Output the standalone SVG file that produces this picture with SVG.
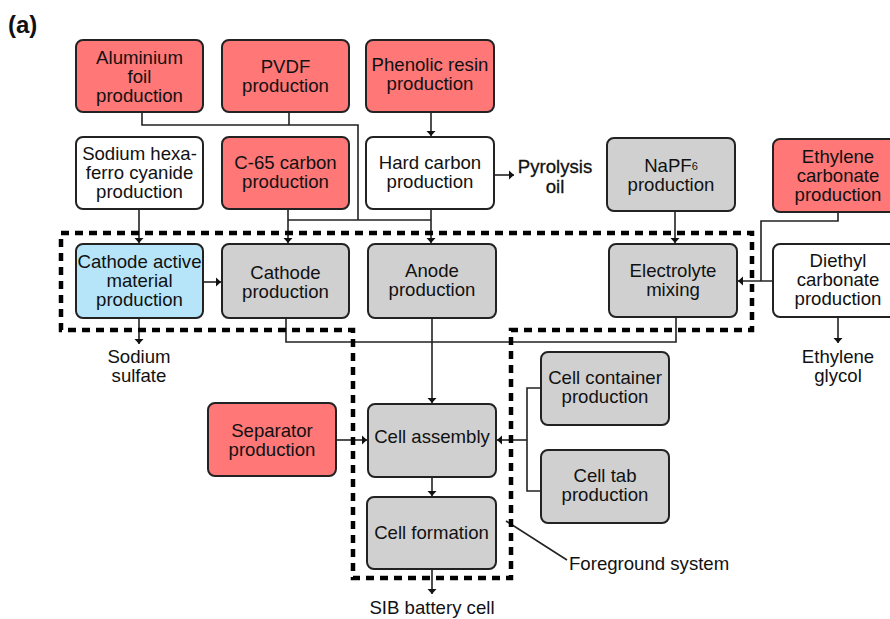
<svg xmlns="http://www.w3.org/2000/svg" width="890" height="619" viewBox="0 0 890 619">
<style>
.b{stroke:#222;stroke-width:2}
.r{fill:#FF7777}.g{fill:#D0D0D0}.w{fill:#fff}.c{fill:#B6E5FA}
text{font-family:"Liberation Sans",Arial,sans-serif;font-size:18.6px;fill:#111;text-anchor:middle}
.ln{fill:none;stroke:#222;stroke-width:1.6}
.dash{fill:none;stroke:#000;stroke-width:4.5;stroke-dasharray:8 6}
.py{font-size:18.6px;stroke:#111;stroke-width:0.3}
</style>
<defs>
<marker id="ah" viewBox="-6 -5 7 10" markerWidth="7" markerHeight="10" refX="0" refY="0" orient="auto" markerUnits="userSpaceOnUse">
<path d="M-5,-4.5 L0,0 L-5,4.5 Z" fill="#111"/>
</marker>
</defs>
<rect width="890" height="619" fill="#fff"/>
<text x="8" y="33" style="font-size:24px;font-weight:bold;text-anchor:start">(a)</text>

<g id="connectors">
<path class="ln" d="M142,112 V125 H358 V220"/>
<path class="ln" d="M289,112 V125"/>
<path class="ln" d="M431,112 V136" marker-end="url(#ah)"/>
<path class="ln" d="M288,220 H431"/>
<path class="ln" d="M288,209 V243" marker-end="url(#ah)"/>
<path class="ln" d="M431,209 V243" marker-end="url(#ah)"/>
<path class="ln" d="M494,175 H514" marker-end="url(#ah)"/>
<path class="ln" d="M139,209 V243" marker-end="url(#ah)"/>
<path class="ln" d="M203,282 H221" marker-end="url(#ah)"/>
<path class="ln" d="M139,318 V344" marker-end="url(#ah)"/>
<path class="ln" d="M675,211 V243" marker-end="url(#ah)"/>
<path class="ln" d="M838,212 V221 H761 V281"/>
<path class="ln" d="M773,281 H738" marker-end="url(#ah)"/>
<path class="ln" d="M838,317 V343" marker-end="url(#ah)"/>
<path class="ln" d="M286,318 V342 H676 V317"/>
<path class="ln" d="M432,318 V403" marker-end="url(#ah)"/>
<path class="ln" d="M336,440 H367" marker-end="url(#ah)"/>
<path class="ln" d="M541,388 H527 V491 H541"/>
<path class="ln" d="M527,440 H497" marker-end="url(#ah)"/>
<path class="ln" d="M432,477 V496" marker-end="url(#ah)"/>
<path class="ln" d="M432,569 V594" marker-end="url(#ah)"/>
<path class="ln" d="M506,521 L567,560"/>
</g>

<path id="foreground-boundary" class="dash" d="M61,233 H752 V330 H511 V578 H353 V330 H61 Z"/>

<g id="aluminium"><rect class="b r" x="76" y="40" width="127" height="72" rx="7"/>
<text x="139.5" y="64">Aluminium</text><text x="139.5" y="83">foil</text><text x="139.5" y="102">production</text></g>
<g id="pvdf"><rect class="b r" x="222" y="40" width="127" height="72" rx="7"/>
<text x="285.5" y="73">PVDF</text><text x="285.5" y="92">production</text></g>
<g id="phenolic"><rect class="b r" x="366" y="40" width="128" height="72" rx="7"/>
<text x="430" y="71">Phenolic resin</text><text x="430" y="90">production</text></g>
<g id="sodium-hexa"><rect class="b w" x="76" y="137" width="127" height="72" rx="7"/>
<text x="139.5" y="160">Sodium hexa-</text><text x="139.5" y="179">ferro cyanide</text><text x="139.5" y="198">production</text></g>
<g id="c65"><rect class="b r" x="222" y="137" width="127" height="72" rx="7"/>
<text x="285.5" y="169">C-65 carbon</text><text x="285.5" y="188">production</text></g>
<g id="hard-carbon"><rect class="b w" x="366" y="137" width="128" height="72" rx="7"/>
<text x="430" y="169">Hard carbon</text><text x="430" y="188">production</text></g>
<text x="555" y="173" class="py">Pyrolysis</text>
<text x="555" y="193" class="py">oil</text>
<g id="napf6"><rect class="b g" x="607" y="138" width="128" height="73" rx="7"/>
<text x="671" y="172">NaPF<tspan style="font-size:11px" dy="-2">6</tspan></text><text x="671" y="191">production</text></g>
<g id="ethylene-carbonate"><rect class="b r" x="773" y="139" width="130" height="73" rx="7"/>
<text x="838" y="163">Ethylene</text><text x="838" y="182">carbonate</text><text x="838" y="201">production</text></g>
<g id="cathode-active"><rect class="b c" x="76" y="244" width="127" height="74" rx="7"/>
<text x="139.5" y="268">Cathode active</text><text x="139.5" y="287">material</text><text x="139.5" y="306">production</text></g>
<g id="cathode"><rect class="b g" x="222" y="244" width="127" height="74" rx="7"/>
<text x="285.5" y="279">Cathode</text><text x="285.5" y="298">production</text></g>
<g id="anode"><rect class="b g" x="368" y="244" width="128" height="74" rx="7"/>
<text x="432" y="277">Anode</text><text x="432" y="296">production</text></g>
<g id="electrolyte"><rect class="b g" x="609" y="244" width="128" height="73" rx="7"/>
<text x="673" y="277">Electrolyte</text><text x="673" y="296">mixing</text></g>
<g id="diethyl"><rect class="b w" x="773" y="244" width="130" height="73" rx="7"/>
<text x="838" y="267">Diethyl</text><text x="838" y="286">carbonate</text><text x="838" y="305">production</text></g>
<text x="139" y="363">Sodium</text><text x="139" y="382">sulfate</text>
<text x="838" y="363">Ethylene</text><text x="838" y="382">glycol</text>
<g id="cell-container"><rect class="b g" x="541" y="352" width="128" height="73" rx="7"/>
<text x="605" y="384">Cell container</text><text x="605" y="403">production</text></g>
<g id="separator"><rect class="b r" x="208" y="403" width="128" height="73" rx="7"/>
<text x="272" y="437">Separator</text><text x="272" y="456">production</text></g>
<g id="cell-assembly"><rect class="b g" x="368" y="404" width="128" height="73" rx="7"/>
<text x="432" y="443">Cell assembly</text></g>
<g id="cell-tab"><rect class="b g" x="541" y="450" width="128" height="73" rx="7"/>
<text x="605" y="482">Cell tab</text><text x="605" y="501">production</text></g>
<g id="cell-formation"><rect class="b g" x="367" y="497" width="129" height="72" rx="7"/>
<text x="431.5" y="539">Cell formation</text></g>
<text x="432" y="614">SIB battery cell</text>
<text x="569" y="570" style="text-anchor:start">Foreground system</text>
</svg>
